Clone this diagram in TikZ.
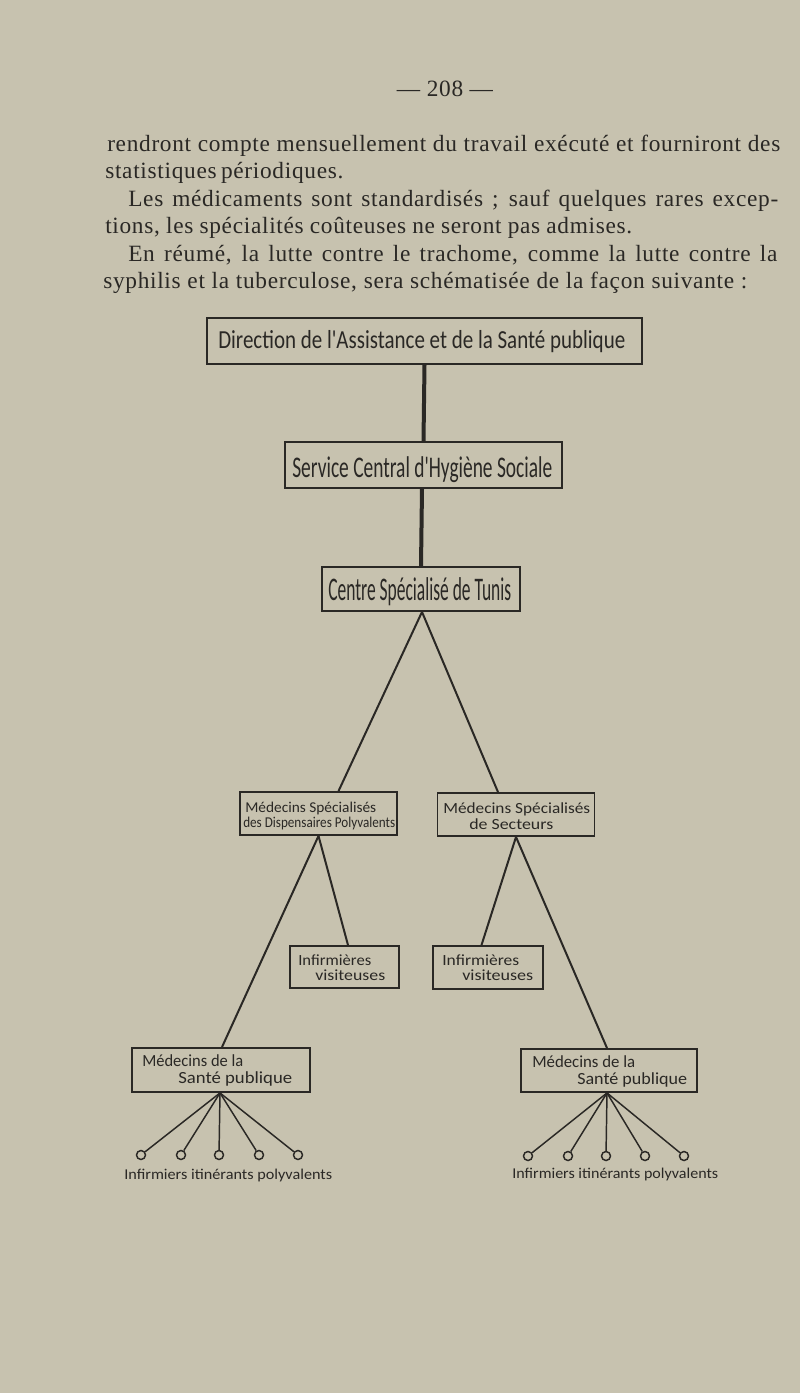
\documentclass[tikz,border=0pt]{standalone}
\usepackage{graphicx}
\usepackage{fontspec}
\setmainfont{Liberation Serif}
\newfontfamily\bodyf[LetterSpace=3]{Liberation Serif}
\newfontfamily\handf{Carlito}
\usetikzlibrary{calc}
\newdimen\px \px=0.75pt
\definecolor{paper}{RGB}{199,194,175}
\definecolor{ink}{RGB}{42,40,37}
\newcommand\fl[3]{\resizebox{#1\px}{#2\px}{\rule{0pt}{1em}\smash{\handf #3}}}
\newcommand\bl[2]{\makebox[#1\px][s]{#2}}
\begin{document}
\begin{tikzpicture}[x=0.75pt,y=-0.75pt,
  btext/.style={inner sep=0pt, text=ink, font=\bodyf\fontsize{17.5}{21}\selectfont, anchor=base west},
  lbl/.style={inner sep=0pt, text=ink, anchor=base west},
  box/.style={draw=ink, line width=1.4pt, inner sep=0pt},
  trunk/.style={draw=ink, line width=3pt},
  branch/.style={draw=ink, line width=1.5pt},
  fan/.style={draw=ink, line width=1.1pt},
  dot/.style={circle, draw=ink, line width=1.1pt, minimum size=9\px, inner sep=0pt}]
\useasboundingbox (0,0) rectangle (800,1393);
\fill[paper] (0,0) rectangle (800,1393);

% running text
\node[btext, anchor=base] (pg) at (445,96) {— 208 —};
\node[btext] (p1) at (107,151) {\bl{673}{rendront compte mensuellement du travail exécuté et fourniront des}};
\node[btext] (p2) at (105,178) {\bl{232}{statistiques périodiques.}};
\node[btext] (p3) at (128,206) {\bl{650}{Les médicaments sont standardisés ; sauf quelques rares excep-}};
\node[btext] (p4) at (105,233.5) {\bl{527}{tions, les spécialités coûteuses ne seront pas admises.}};
\node[btext] (p5) at (128,261.5) {\bl{649}{En réumé, la lutte contre le trachome, comme la lutte contre la}};
\node[btext] (p6) at (103,288.5) {\bl{644}{syphilis et la tuberculose, sera schématisée de la façon suivante :}};

% boxes
\node[box, minimum width=435\px, minimum height=46\px] (b1) at (424.5,341) {};
\node[box, minimum width=277\px, minimum height=46\px] (b2) at (423.5,465) {};
\node[box, minimum width=198\px, minimum height=44\px] (b3) at (421,589) {};
\node[box, minimum width=157\px, minimum height=43\px] (b4) at (318.5,813.5) {};
\node[box, minimum width=157\px, minimum height=43\px] (b5) at (516,814.5) {};
\node[box, minimum width=109\px, minimum height=42\px] (b6) at (344.5,967) {};
\node[box, minimum width=110\px, minimum height=43\px] (b7) at (488,967.5) {};
\node[box, minimum width=178\px, minimum height=44\px] (b8) at (221,1070) {};
\node[box, minimum width=176\px, minimum height=43\px] (b9) at (609,1070.5) {};

% box texts
\node[lbl] (t1) at (218,348) {\fl{407}{26}{Direction de l'Assistance et de la Santé publique}};
\node[lbl] (t2) at (292,477) {\fl{260}{30}{Service Central d'Hygiène Sociale}};
\node[lbl] (t3) at (328,600) {\fl{183}{33}{Centre Spécialisé de Tunis}};
\node[lbl] (t4a) at (245,812) {\fl{131}{15}{Médecins Spécialisés}};
\node[lbl] (t4b) at (243,827) {\fl{152}{15}{des Dispensaires Polyvalents}};
\node[lbl] (t5a) at (443,813) {\fl{147}{15.5}{Médecins Spécialisés}};
\node[lbl] (t5b) at (469,829) {\fl{84}{15.5}{de Secteurs}};
\node[lbl] (t6a) at (298,965) {\fl{73}{15.5}{Infirmières}};
\node[lbl] (t6b) at (315,980) {\fl{70}{15.5}{visiteuses}};
\node[lbl] (t7a) at (442,965) {\fl{77}{15.5}{Infirmières}};
\node[lbl] (t7b) at (462,980) {\fl{71}{15.5}{visiteuses}};
\node[lbl] (t8a) at (142,1066) {\fl{101}{17}{Médecins de la}};
\node[lbl] (t8b) at (178,1083) {\fl{114}{17}{Santé publique}};
\node[lbl] (t9a) at (532,1067) {\fl{103}{17}{Médecins de la}};
\node[lbl] (t9b) at (577,1084) {\fl{110}{17}{Santé publique}};

% circles
\node[dot] (c1) at (141,1155) {};
\node[dot] (c2) at (181,1155) {};
\node[dot] (c3) at (219,1155) {};
\node[dot] (c4) at (259,1155) {};
\node[dot] (c5) at (298,1155) {};
\node[dot] (d1) at (528,1156) {};
\node[dot] (d2) at (568,1156) {};
\node[dot] (d3) at (606,1156) {};
\node[dot] (d4) at (645,1156) {};
\node[dot] (d5) at (684,1156) {};

\node[lbl] (l1) at (124,1179) {\fl{208}{15}{Infirmiers itinérants polyvalents}};
\node[lbl] (l2) at (512,1178) {\fl{206}{15}{Infirmiers itinérants polyvalents}};

% connectors
\draw[trunk] (b1.south) -- (b2.north);
\draw[trunk] ($(b2.south)+(-1.5,0)$) -- ($(b3.north)+(0,0)$);
\draw[branch] ($(b3.south)+(1,0)$) -- ($(b4.north)+(20,0)$);
\draw[branch] ($(b3.south)+(1,0)$) -- ($(b5.north)+(-18,0)$);
\draw[branch] (b4.south) -- ($(b6.north)+(3.5,0)$);
\draw[branch] (b4.south) -- ($(b8.north)+(1,0)$);
\draw[branch] (b5.south) -- ($(b7.north)+(-6.5,0)$);
\draw[branch] (b5.south) -- ($(b9.north)+(-2,0)$);
\foreach \c in {c1,c2,c3,c4,c5} \draw[fan] ($(b8.south)+(-1,0)$) -- (\c);
\foreach \c in {d1,d2,d3,d4,d5} \draw[fan] ($(b9.south)+(-2,0)$) -- (\c);
\end{tikzpicture}
\end{document}
